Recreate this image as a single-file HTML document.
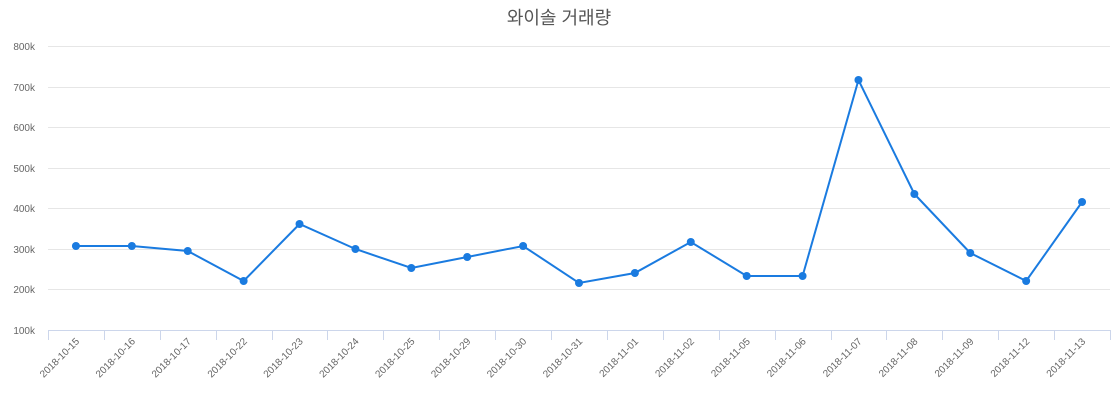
<!DOCTYPE html>
<html><head><meta charset="utf-8"><style>
html,body{margin:0;padding:0;background:#fff;}
svg text{font-family:"Liberation Sans","Noto Sans CJK KR",sans-serif;}
</style></head><body>
<svg width="1120" height="400" xmlns="http://www.w3.org/2000/svg">
<text x="559" y="24" text-anchor="middle" font-size="18" fill="#555" font-family="Liberation Sans, Noto Sans CJK KR, sans-serif">와이솔 거래량</text>
<g stroke="#e6e6e6" stroke-width="1">
<line x1="48" y1="46.5" x2="1110" y2="46.5"/>
<line x1="48" y1="87.5" x2="1110" y2="87.5"/>
<line x1="48" y1="127.5" x2="1110" y2="127.5"/>
<line x1="48" y1="168.5" x2="1110" y2="168.5"/>
<line x1="48" y1="208.5" x2="1110" y2="208.5"/>
<line x1="48" y1="249.5" x2="1110" y2="249.5"/>
<line x1="48" y1="289.5" x2="1110" y2="289.5"/>
</g>
<line x1="48" y1="330.5" x2="1110" y2="330.5" stroke="#ccd6eb"/>
<g font-size="10" fill="#666" text-anchor="end">
<text x="35" y="50">800k</text>
<text x="35" y="91">700k</text>
<text x="35" y="131">600k</text>
<text x="35" y="172">500k</text>
<text x="35" y="212">400k</text>
<text x="35" y="253">300k</text>
<text x="35" y="293">200k</text>
<text x="35" y="334">100k</text>
</g>
<g id="ticks" stroke="#ccd6eb"></g>
<g id="labels" font-size="10" fill="#666" text-anchor="end"></g>
<polyline id="line" fill="none" stroke="#1a7be0" stroke-width="2"/>
<g id="pts" fill="#1a7be0"></g>
</svg>
<script>
var cats=["2018-10-15","2018-10-16","2018-10-17","2018-10-22","2018-10-23","2018-10-24","2018-10-25","2018-10-29","2018-10-30","2018-10-31","2018-11-01","2018-11-02","2018-11-05","2018-11-06","2018-11-07","2018-11-08","2018-11-09","2018-11-12","2018-11-13"];
var ys=[246,246,251,281,224,249,268,257,246,283,273,242,276,276,80,194,253,281,202];
var ns="http://www.w3.org/2000/svg",w=(1110-48)/19,pts=[];
var T=document.getElementById("ticks"),L=document.getElementById("labels"),P=document.getElementById("pts");
for(var i=0;i<=19;i++){var l=document.createElementNS(ns,"line");var x=Math.round(48+i*w)+0.5;l.setAttribute("x1",x);l.setAttribute("x2",x);l.setAttribute("y1",330);l.setAttribute("y2",340);T.appendChild(l);}
cats.forEach(function(c,i){var x=48+w*(i+0.5);pts.push(x+","+ys[i]);
var t=document.createElementNS(ns,"text");t.setAttribute("transform","translate("+(x+4)+",342) rotate(-45)");t.textContent=c;L.appendChild(t);
var ci=document.createElementNS(ns,"circle");ci.setAttribute("cx",x);ci.setAttribute("cy",ys[i]);ci.setAttribute("r",4);P.appendChild(ci);});
document.getElementById("line").setAttribute("points",pts.join(" "));
</script>
</body></html>
